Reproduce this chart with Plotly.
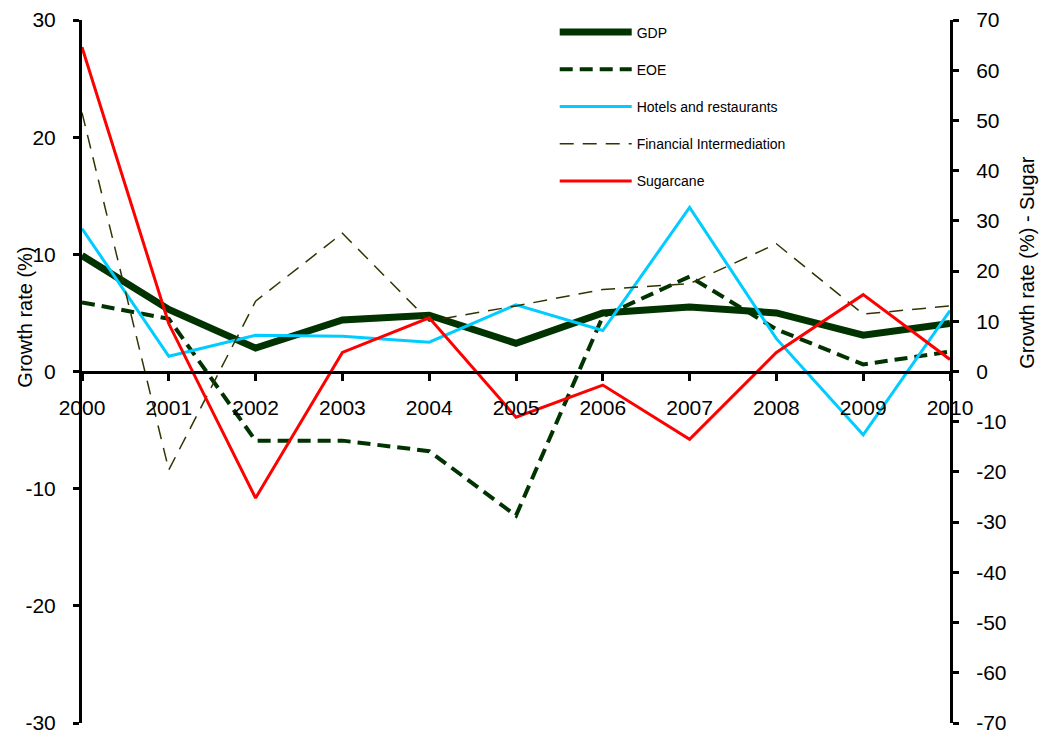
import plotly.graph_objects as go

years = [2000, 2001, 2002, 2003, 2004, 2005, 2006, 2007, 2008, 2009, 2010]
gdp = [9.9, 5.3, 2.0, 4.4, 4.8, 2.4, 5.0, 5.5, 5.0, 3.1, 4.1]
eoe = [5.9, 4.5, -5.9, -5.9, -6.8, -12.3, 4.7, 8.1, 3.6, 0.6, 1.7]
hotels = [12.2, 1.3, 3.1, 3.0, 2.5, 5.7, 3.5, 14.0, 2.8, -5.4, 5.2]
financial = [22.1, -8.4, 6.0, 11.8, 4.3, 5.6, 7.0, 7.5, 10.9, 4.9, 5.6]
sugarcane = [64.6, 9.5, -25.2, 3.8, 10.7, -9.1, -2.7, -13.5, 3.8, 15.3, 2.4]

left_ticks = [-30, -20, -10, 0, 10, 20, 30]
right_ticks = [-70, -60, -50, -40, -30, -20, -10, 0, 10, 20, 30, 40, 50, 60, 70]

FONT = "Liberation Sans, Arial, sans-serif"

fig = go.Figure()
fig.add_trace(go.Scatter(x=years, y=gdp, name="GDP", mode="lines", legendgroup="a",
                         line=dict(color="#003300", width=7)))
fig.add_trace(go.Scatter(x=years, y=eoe, name="EOE", mode="lines", legendgroup="b",
                         line=dict(color="#003300", width=4, dash="13px,7px")))
fig.add_trace(go.Scatter(x=years, y=hotels, name="Hotels and restaurants", mode="lines", legendgroup="c",
                         line=dict(color="#00CCFF", width=3)))
fig.add_trace(go.Scatter(x=years, y=financial, name="Financial Intermediation", mode="lines", legendgroup="d",
                         line=dict(color="#333300", width=1.5, dash="14px,9px")))
fig.add_trace(go.Scatter(x=years, y=sugarcane, name="Sugarcane", mode="lines", legendgroup="e",
                         yaxis="y2", line=dict(color="#FF0000", width=3)))

fig.update_layout(
    width=1040, height=736,
    margin=dict(l=82, r=90, t=20, b=13),
    paper_bgcolor="white", plot_bgcolor="white",
    font=dict(family=FONT, color="black", size=21),
    xaxis=dict(range=[2000, 2010], tickvals=years, ticktext=[str(y) for y in years],
               anchor="free", position=0.5, showline=True, linecolor="black", linewidth=3,
               ticks="outside", ticklen=7, tickwidth=3, tickcolor="black",
               showgrid=False, zeroline=False, ticklabelstandoff=9, automargin=False,
               tickfont=dict(size=21)),
    yaxis=dict(range=[-30, 30], tickvals=left_ticks, ticktext=[str(v) for v in left_ticks],
               showline=True, linecolor="black", linewidth=3,
               ticks="outside", ticklen=6, tickwidth=3, tickcolor="black",
               showgrid=False, zeroline=False, ticklabelstandoff=13, automargin=False,
               ticklabeloverflow="allow"),
    yaxis2=dict(range=[-70, 70], tickvals=right_ticks, ticktext=[str(v) for v in right_ticks],
                overlaying="y", side="right",
                showline=True, linecolor="black", linewidth=3,
                ticks="outside", ticklen=6, tickwidth=3, tickcolor="black",
                showgrid=False, zeroline=False, ticklabelstandoff=13, automargin=False,
                ticklabeloverflow="allow"),
    annotations=[
        dict(text="Growth rate (%)", xref="paper", yref="paper", x=-0.0657, y=0.578,
             textangle=-90, showarrow=False, font=dict(size=20), xanchor="center", yanchor="middle"),
        dict(text="Growth rate (%) - Sugar", xref="paper", yref="paper", x=1.0887, y=0.656,
             textangle=-90, showarrow=False, font=dict(size=20), xanchor="center", yanchor="middle"),
    ],
    legend=dict(x=0.5446, y=1.005, xanchor="left", yanchor="top", bgcolor="rgba(0,0,0,0)",
                font=dict(size=14, family=FONT), tracegroupgap=16, itemwidth=72,
                traceorder="grouped"),
    showlegend=True,
)

fig.write_html("out.html")
